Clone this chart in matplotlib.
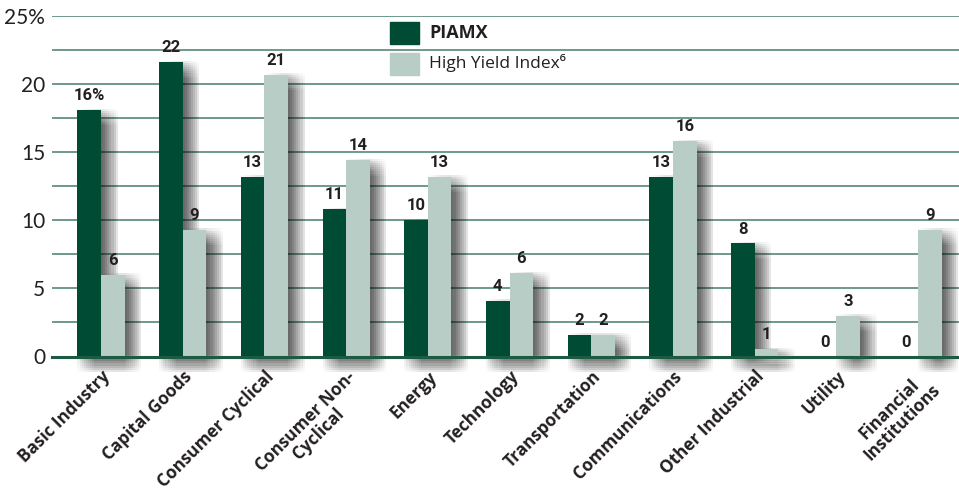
import matplotlib
matplotlib.use("Agg")
import matplotlib.pyplot as plt
import matplotlib.patheffects as pe
import numpy as np

categories = ["Basic Industry", "Capital Goods", "Consumer Cyclical", "Consumer Non-\nCyclical",
              "Energy", "Technology", "Transportation", "Communications", "Other Industrial",
              "Utility", "Financial\nInstitutions"]
piamx = [18.1, 21.6, 13.2, 10.8, 10.0, 4.1, 1.6, 13.2, 8.3, 0.0, 0.0]
hy_index = [6.0, 9.3, 20.7, 14.4, 13.2, 6.1, 1.6, 15.8, 0.55, 3.0, 9.3]
piamx_labels = ["16%", "22", "13", "11", "10", "4", "2", "13", "8", "0", "0"]
hy_labels = ["6", "9", "21", "14", "13", "6", "2", "16", "1", "3", "9"]
yticks = [0, 5, 10, 15, 20, 25]
ytick_labels = ["0", "5", "10", "15", "20", "25%"]

DARK = "#004b33"
LIGHT = "#b7cdc6"
GRID = "#6e9a88"
TXT = "#231f20"

cond = ["Roboto", "DejaVu Sans"]
bold = ["Open Sans", "DejaVu Sans"]

fig = plt.figure(figsize=(9.59, 4.95), dpi=100)
ax = fig.add_axes([52/959, 1-356.5/495, 1-52/959, (356.5-16)/495])

x = np.arange(len(categories))
w = 0.288

shadow = []
for i in np.arange(-6, 6.01, 1.5):
    for j in np.arange(-6, 6.01, 1.5):
        shadow.append(pe.SimplePatchShadow(offset=(6 + i, -5 + j), shadow_rgbFace="#222222", alpha=0.011))
shadow.append(pe.Normal())

b1 = ax.bar(x, piamx, width=-w, align="edge", color=DARK, zorder=3, clip_on=False)
b2 = ax.bar(x, hy_index, width=w, align="edge", color=LIGHT, zorder=3, clip_on=False)
for b in list(b1) + list(b2):
    b.set_path_effects(shadow)

ax.set_xlim(-0.6, 10.5)
ax.set_ylim(0, 25)
for v in np.arange(2.5, 25.01, 2.5):
    ax.axhline(v, color=GRID, lw=1.4, zorder=1)
ax.axhline(0, color="#1d5a42", lw=2.2, zorder=4, clip_on=False)

for s in ax.spines.values():
    s.set_visible(False)
ax.set_yticks(yticks)
ax.set_yticklabels(ytick_labels, fontsize=15, family=["Lato", "DejaVu Sans"], color=TXT)
ax.tick_params(axis="y", length=0, pad=5)
ax.set_xticks(x)
ax.set_xticklabels(categories, rotation=45, ha="right", rotation_mode="anchor",
                   fontsize=12.3, fontweight="bold", family=bold, color=TXT, multialignment="center",
                   linespacing=1.0)
ax.tick_params(axis="x", length=0, pad=8)

for xi, v, lab in zip(x, piamx, piamx_labels):
    ax.annotate(lab, (xi - w/2, v), xytext=(0, 5), textcoords="offset points", ha="center", va="bottom",
                fontsize=12, fontweight="bold", family=cond, color=TXT, zorder=5)
for xi, v, lab in zip(x, hy_index, hy_labels):
    ax.annotate(lab, (xi + w/2, v), xytext=(0, 5), textcoords="offset points", ha="center", va="bottom",
                fontsize=12, fontweight="bold", family=cond, color=TXT, zorder=5)

# legend
fig.patches.append(plt.Rectangle((390/959, 1-44/495), 29/959, 22/495, transform=fig.transFigure, color=DARK))
fig.patches.append(plt.Rectangle((390/959, 1-75/495), 29/959, 22/495, transform=fig.transFigure, color=LIGHT))
fig.text(429/959, 1-33/495, "PIAMX", fontsize=13, fontweight="bold", family=bold, color=TXT, va="center")
fig.text(429/959, 1-63/495, "High Yield Index\u2076", fontsize=12.5, family=bold, color=TXT, va="center")

fig.savefig("out.png", dpi=100)
